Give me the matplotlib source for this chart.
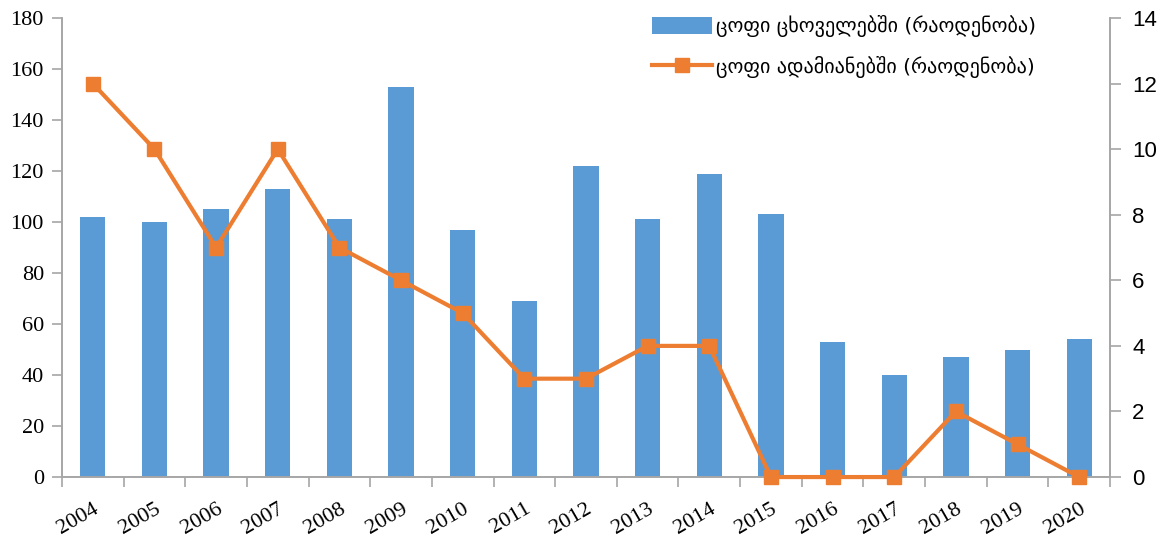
import matplotlib
matplotlib.use("Agg")
import matplotlib.pyplot as plt
import numpy as np

years = ["2004", "2005", "2006", "2007", "2008", "2009", "2010", "2011", "2012",
         "2013", "2014", "2015", "2016", "2017", "2018", "2019", "2020"]
animals = [102, 100, 105, 113, 101, 153, 97, 69, 122, 101, 119, 103, 53, 40, 47, 50, 54]
humans = [12, 10, 7, 10, 7, 6, 5, 3, 3, 4, 4, 0, 0, 0, 2, 1, 0]

label_animals = "ცოფი ცხოველებში (რაოდენობა)"
label_humans = "ცოფი ადამიანებში (რაოდენობა)"

BLUE = "#5B9BD5"
ORANGE = "#ED7D31"
GREY = "#A6A6A6"

plt.rcParams["font.family"] = ["Liberation Serif", "DejaVu Sans"]

fig = plt.figure(figsize=(11.7, 5.36), dpi=100)
ax = fig.add_axes([0.053, 0.110, 0.8957, 0.8564])
ax2 = ax.twinx()

x = np.arange(len(years))
ax.bar(x, animals, width=0.41, color=BLUE, label=label_animals, zorder=2)
ax2.plot(x, humans, color=ORANGE, lw=3, marker="s", ms=10, mec=ORANGE,
         label=label_humans, clip_on=False, zorder=3)

ax.set_xlim(-0.5, len(years) - 0.5)
ax.set_ylim(0, 180)
ax.set_yticks(np.arange(0, 181, 20))
ax2.set_ylim(0, 14)
ax2.set_yticks(np.arange(0, 15, 2))

# category boundaries carry the tick marks, labels sit at the centres
ax.set_xticks(x)
ax.set_xticks(np.arange(-0.5, len(years), 1.0), minor=True)
ax.set_xticklabels(years, rotation=30, ha="right", rotation_mode="anchor")
ax.tick_params(axis="x", which="major", length=0, pad=16, labelsize=16)
ax.tick_params(axis="x", which="minor", length=7, color=GREY, width=1.2)

ax.tick_params(axis="y", length=7, color=GREY, width=1.2, pad=6, labelsize=16)
ax2.tick_params(axis="y", length=8, color=GREY, width=1.2, pad=8, labelsize=16)

for a in (ax, ax2):
    a.spines["top"].set_visible(False)
    for s in ("left", "right", "bottom"):
        a.spines[s].set_color(GREY)
        a.spines[s].set_linewidth(1.2)

h1, l1 = ax.get_legend_handles_labels()
h2, l2 = ax2.get_legend_handles_labels()
leg = ax2.legend(h1 + h2, l1 + l2, loc="upper right", bbox_to_anchor=(0.947, 1.045),
                 frameon=False, handlelength=3.0, handleheight=0.9,
                 labelspacing=0.9, handletextpad=0.2,
                 prop={"family": "DejaVu Sans", "size": 14.5})

# right-hand scale uses a sans face
fig.canvas.draw()
for t in ax2.get_yticklabels():
    t.set_fontfamily("Liberation Sans")

fig.savefig("out.png", dpi=100)
